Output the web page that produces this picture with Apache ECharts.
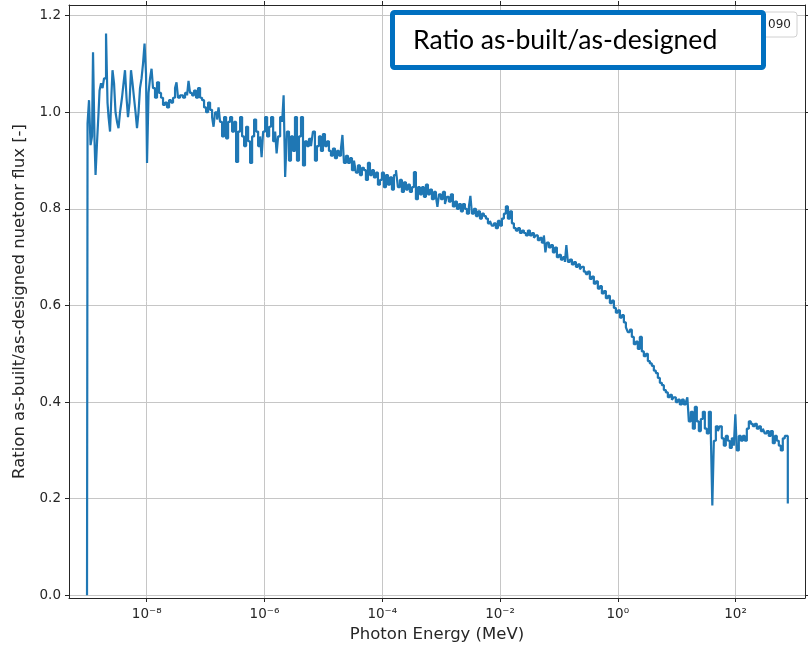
<!DOCTYPE html>
<html><head><meta charset="utf-8">
<script src="https://cdn.jsdelivr.net/npm/echarts@6/dist/echarts.min.js"></script>
<style>html,body{margin:0;padding:0;background:#fff}#c{width:808px;height:648px}</style>
</head><body><div id="c"></div>
<script>
// Photon energy, as log10(E / MeV), of each step (bin start)
const energyLog10 = [
-9.014,-9.005,-8.980,-8.954,-8.929,-8.912,-8.886,-8.869,-8.844,-8.818,-8.801,-8.776,-8.750,-8.725,-8.691,-8.666,-8.648,-8.623,-8.598,-8.581,
-8.555,-8.530,-8.504,-8.479,-8.453,-8.420,-8.394,-8.369,-8.343,-8.318,-8.292,-8.267,-8.241,-8.216,-8.190,-8.165,-8.139,-8.114,-8.088,-8.063,
-8.037,-8.012,-7.995,-7.969,-7.944,-7.918,-7.893,-7.859,-7.825,-7.791,-7.757,-7.723,-7.689,-7.655,-7.621,-7.587,-7.553,-7.519,-7.494,-7.468,
-7.434,-7.383,-7.349,-7.315,-7.290,-7.264,-7.230,-7.196,-7.162,-7.128,-7.094,-7.060,-7.026,-6.992,-6.958,-6.924,-6.890,-6.865,-6.839,-6.805,
-6.780,-6.754,-6.720,-6.686,-6.652,-6.618,-6.584,-6.550,-6.516,-6.482,-6.448,-6.414,-6.380,-6.346,-6.312,-6.278,-6.244,-6.210,-6.176,-6.142,
-6.108,-6.074,-6.049,-6.023,-5.989,-5.955,-5.921,-5.887,-5.853,-5.819,-5.794,-5.768,-5.734,-5.700,-5.675,-5.649,-5.618,-5.584,-5.550,-5.516,
-5.482,-5.448,-5.414,-5.380,-5.346,-5.312,-5.278,-5.244,-5.210,-5.177,-5.143,-5.109,-5.075,-5.041,-5.007,-4.973,-4.939,-4.905,-4.871,-4.837,
-4.803,-4.769,-4.735,-4.701,-4.676,-4.650,-4.616,-4.582,-4.548,-4.514,-4.480,-4.447,-4.413,-4.379,-4.345,-4.311,-4.277,-4.243,-4.209,-4.175,
-4.141,-4.107,-4.073,-4.039,-4.005,-3.971,-3.937,-3.903,-3.869,-3.835,-3.801,-3.767,-3.734,-3.700,-3.666,-3.632,-3.598,-3.564,-3.530,-3.496,
-3.462,-3.428,-3.394,-3.360,-3.326,-3.292,-3.258,-3.224,-3.190,-3.156,-3.122,-3.088,-3.063,-3.037,-3.003,-2.969,-2.935,-2.902,-2.868,-2.834,
-2.800,-2.766,-2.732,-2.698,-2.664,-2.630,-2.596,-2.562,-2.528,-2.503,-2.477,-2.443,-2.409,-2.375,-2.341,-2.307,-2.273,-2.239,-2.205,-2.171,
-2.138,-2.104,-2.070,-2.036,-2.002,-1.968,-1.934,-1.900,-1.866,-1.832,-1.798,-1.764,-1.730,-1.696,-1.662,-1.628,-1.594,-1.560,-1.526,-1.492,
-1.458,-1.424,-1.391,-1.357,-1.323,-1.289,-1.255,-1.229,-1.204,-1.170,-1.136,-1.102,-1.068,-1.034,-1.000,-0.966,-0.932,-0.898,-0.873,-0.847,
-0.813,-0.779,-0.745,-0.711,-0.677,-0.643,-0.610,-0.576,-0.542,-0.508,-0.474,-0.440,-0.406,-0.372,-0.338,-0.304,-0.270,-0.236,-0.202,-0.168,
-0.134,-0.100,-0.066,-0.032,0.002,0.036,0.070,0.104,0.138,0.171,0.205,0.239,0.273,0.307,0.341,0.375,0.409,0.443,0.477,0.511,
0.545,0.579,0.613,0.647,0.681,0.715,0.749,0.783,0.817,0.851,0.885,0.919,0.952,0.986,1.020,1.054,1.088,1.122,1.156,1.182,
1.207,1.241,1.275,1.309,1.343,1.377,1.411,1.445,1.479,1.513,1.547,1.581,1.606,1.632,1.666,1.700,1.733,1.767,1.801,1.835,
1.869,1.903,1.937,1.971,1.997,2.022,2.056,2.090,2.124,2.158,2.192,2.226,2.260,2.294,2.328,2.362,2.396,2.430,2.464,2.497,
2.531,2.565,2.599,2.633,2.667,2.701,2.735,2.769,2.803,2.837,2.888
];
// Ratio as-built / as-designed for each step
const ratio = [
0,0.977,1.025,0.932,0.95,1.124,0.94,0.87,0.938,1.0,1.045,1.06,1.05,1.07,1.163,1.02,0.99,0.96,1.04,1.087,
1.06,1.0,0.98,0.967,1.0,1.03,1.06,1.087,1.03,0.99,1.02,1.087,1.06,1.03,1.0,0.967,1.0,1.05,1.07,1.10,
1.142,1.08,0.895,1.04,1.07,1.09,1.05,1.03,1.062,1.04,1.03,1.015,1.02,1.01,1.025,1.02,1.03,1.05,1.062,1.03,
1.035,1.03,1.04,1.035,1.065,1.04,1.035,1.045,1.03,1.05,1.03,1.025,1.01,1.0,1.02,1.005,0.99,0.97,1.0,0.985,
1.01,0.98,0.95,0.99,0.946,0.98,0.99,0.96,0.98,0.897,0.96,0.99,0.95,0.93,0.97,0.94,0.895,0.95,0.985,0.96,
0.93,0.95,0.907,0.96,0.99,0.95,0.97,0.99,0.94,0.96,0.915,0.95,0.99,0.98,1.035,0.866,0.96,0.90,0.95,0.92,
0.99,0.90,0.95,0.99,0.89,0.94,0.93,0.945,0.93,0.96,0.90,0.93,0.95,0.92,0.955,0.93,0.94,0.92,0.91,0.925,
0.905,0.92,0.91,0.925,0.953,0.895,0.91,0.895,0.905,0.88,0.9,0.875,0.89,0.87,0.885,0.88,0.86,0.895,0.87,0.88,
0.865,0.875,0.85,0.86,0.875,0.845,0.87,0.85,0.865,0.84,0.87,0.88,0.845,0.86,0.835,0.855,0.84,0.85,0.835,0.845,
0.876,0.82,0.845,0.83,0.845,0.825,0.85,0.83,0.84,0.82,0.835,0.825,0.804,0.83,0.82,0.835,0.81,0.825,0.815,0.83,
0.805,0.815,0.8,0.81,0.795,0.81,0.8,0.79,0.805,0.827,0.79,0.8,0.785,0.795,0.78,0.79,0.785,0.78,0.77,0.775,
0.765,0.77,0.76,0.775,0.765,0.78,0.79,0.805,0.78,0.795,0.77,0.76,0.755,0.76,0.75,0.755,0.75,0.745,0.755,0.745,
0.75,0.74,0.745,0.735,0.74,0.73,0.745,0.71,0.73,0.72,0.725,0.71,0.72,0.70,0.705,0.695,0.70,0.69,0.725,0.69,
0.695,0.685,0.69,0.68,0.685,0.675,0.68,0.67,0.665,0.67,0.655,0.66,0.645,0.65,0.635,0.64,0.625,0.63,0.615,0.62,
0.605,0.61,0.595,0.585,0.59,0.575,0.58,0.565,0.555,0.545,0.55,0.535,0.52,0.525,0.51,0.535,0.505,0.495,0.5,0.485,
0.48,0.475,0.465,0.46,0.45,0.44,0.435,0.425,0.42,0.41,0.415,0.405,0.41,0.4,0.405,0.395,0.405,0.395,0.40,0.41,
0.36,0.38,0.345,0.39,0.36,0.34,0.365,0.38,0.345,0.335,0.38,0.33,0.186,0.32,0.35,0.34,0.35,0.325,0.31,0.33,
0.32,0.305,0.325,0.31,0.375,0.30,0.33,0.32,0.33,0.32,0.345,0.36,0.355,0.35,0.355,0.345,0.35,0.34,0.345,0.335,
0.34,0.33,0.34,0.315,0.33,0.32,0.31,0.30,0.325,0.33,0.19
];
const xTickExponents = [-8, -6, -4, -2, 0, 2];
const yTickValues = [0, 0.2, 0.4, 0.6, 0.8, 1.0, 1.2];
const xTitle = 'Photon Energy (MeV)';
const yTitle = 'Ration as-built/as-designed nuetonr flux [-]';
const boxTitle = 'Ratio as-built/as-designed';
const legendText = '090';

const SUP = {'-':'\u207B','0':'\u2070','1':'\u00B9','2':'\u00B2','3':'\u00B3','4':'\u2074','5':'\u2075','6':'\u2076','7':'\u2077','8':'\u2078','9':'\u2079'};
function pow10Label(v) {
  const e = Math.round(v);
  return '10' + String(e).split('').map(c => SUP[c]).join('');
}
const FONT = 'DejaVu Sans';
const INK = '#262626';
const GRIDC = '#c6c6c6';
const X_MIN = -9.32, X_MAX = 3.18, Y_MIN = -0.0055, Y_MAX = 1.222;

const seriesData = energyLog10.map((e, i) => [e, ratio[i]]);

function xAx(primary) {
  return {
    type: 'value', position: primary ? 'bottom' : 'top', min: X_MIN, max: X_MAX,
    axisLine: { show: true, onZero: false, lineStyle: { color: INK, width: 1 } },
    axisTick: { show: true, inside: false, length: 4, customValues: xTickExponents, lineStyle: { color: INK, width: 1 } },
    axisLabel: { show: primary, customValues: xTickExponents, formatter: pow10Label, color: INK, fontSize: 13.5, fontFamily: FONT, margin: 9 },
    splitLine: { show: primary, lineStyle: { color: GRIDC, width: 1 } },
    name: primary ? xTitle : '', nameLocation: 'middle', nameGap: 28,
    nameTextStyle: { color: INK, fontSize: 16.5, fontFamily: FONT }
  };
}
function yAx(primary) {
  return {
    type: 'value', position: primary ? 'left' : 'right', min: Y_MIN, max: Y_MAX,
    axisLine: { show: true, onZero: false, lineStyle: { color: INK, width: 1 } },
    axisTick: { show: true, inside: false, length: 4, customValues: yTickValues, lineStyle: { color: INK, width: 1 } },
    axisLabel: { show: primary, customValues: yTickValues, formatter: v => v.toFixed(1), color: INK, fontSize: 13.5, fontFamily: FONT, margin: 8 },
    splitLine: { show: primary, lineStyle: { color: GRIDC, width: 1 } },
    name: primary ? yTitle : '', nameLocation: 'middle', nameGap: 38,
    nameTextStyle: { color: INK, fontSize: 16.5, fontFamily: FONT }
  };
}

const chart = echarts.init(document.getElementById('c'), null, { renderer: 'canvas' });
chart.setOption({
  animation: false,
  backgroundColor: '#fff',
  grid: { left: 69, right: 3, top: 5, bottom: 48, containLabel: false },
  xAxis: [xAx(true), xAx(false)],
  yAxis: [yAx(true), yAx(false)],
  series: [{
    type: 'line', xAxisIndex: 0, yAxisIndex: 0, step: 'end', showSymbol: false, symbol: 'none',
    sampling: null, data: seriesData, clip: true,
    lineStyle: { color: '#1f77b4', width: 2.2 }
  }],
  graphic: [
    { type: 'rect', z: 100, shape: { x: 740, y: 12, width: 57, height: 25, r: 3 }, style: { fill: '#fff', stroke: '#d0d0d0', lineWidth: 1 } },
    { type: 'text', z: 101, x: 791, y: 25, style: { text: legendText, align: 'right', verticalAlign: 'middle', font: '12px "DejaVu Sans"', fill: INK } },
    { type: 'rect', z: 102, shape: { x: 392.5, y: 12.5, width: 371, height: 55, r: 2 }, style: { fill: '#fff', stroke: '#0070C0', lineWidth: 5 } },
    { type: 'text', z: 103, x: 413, y: 40, style: { text: boxTitle, verticalAlign: 'middle', font: '26.6px Lato', fill: '#000' } }
  ]
});
</script>
</body></html>
